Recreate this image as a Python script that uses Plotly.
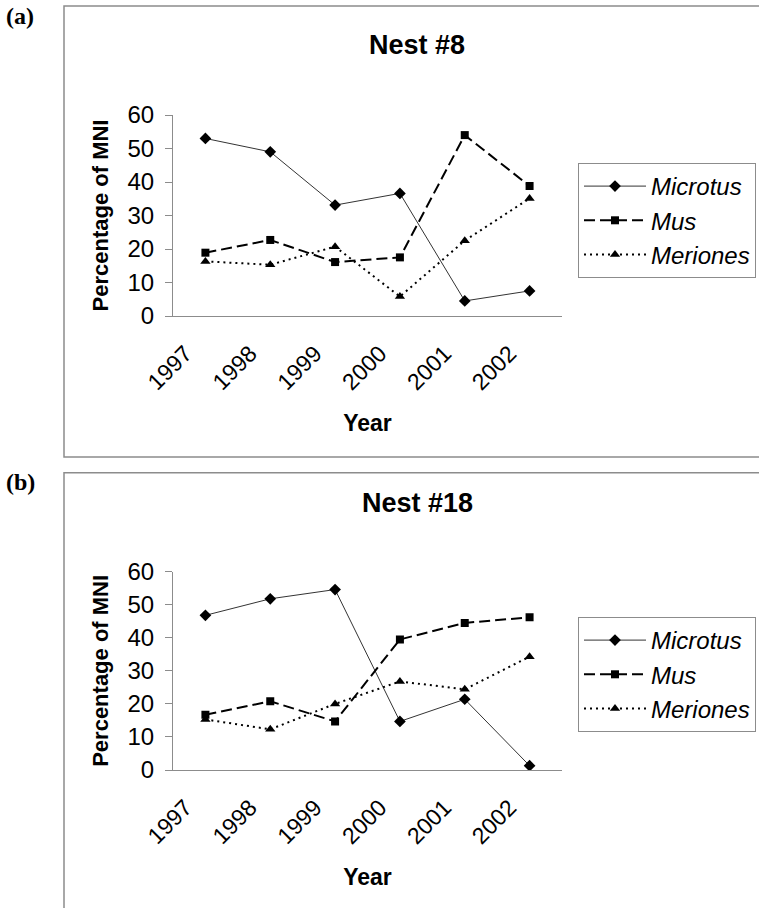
import plotly.graph_objects as go

years = ["1997", "1998", "1999", "2000", "2001", "2002"]

# Panel (a) Nest #8
a_microtus = [53.0, 49.0, 33.1, 36.6, 4.5, 7.5]
a_mus = [18.9, 22.7, 16.1, 17.5, 54.0, 38.8]
a_meriones = [16.3, 15.3, 20.7, 5.8, 22.5, 35.1]

# Panel (b) Nest #18
b_microtus = [46.8, 51.8, 54.6, 14.7, 21.4, 1.3]
b_mus = [16.7, 20.8, 14.7, 39.5, 44.5, 46.2]
b_meriones = [15.3, 12.3, 20.0, 26.8, 24.4, 34.3]

species = ["Microtus", "Mus", "Meriones"]
panel_titles = ["Nest #8", "Nest #18"]
panel_labels = ["(a)", "(b)"]

W, H = 759, 908

def px(x):
    return x / W

def py(y):
    return 1 - y / H

styles = {
    "Microtus": dict(line=dict(color="#333333", width=1, dash="solid"),
                     marker=dict(symbol="diamond", size=9, color="black")),
    "Mus": dict(line=dict(color="black", width=2, dash="11px,5px"),
                marker=dict(symbol="square", size=8, color="black")),
    "Meriones": dict(line=dict(color="black", width=2, dash="2px,4px"),
                     marker=dict(symbol="triangle-up", size=9, color="black")),
}

fig = go.Figure()

panels = [
    ("x", "y", "legend", [a_microtus, a_mus, a_meriones]),
    ("x2", "y2", "legend2", [b_microtus, b_mus, b_meriones]),
]
for xa, ya, leg, series in panels:
    for name, vals in zip(species, series):
        st = styles[name]
        fig.add_trace(go.Scatter(
            x=years, y=vals, name=name, mode="lines+markers",
            line=st["line"], marker=st["marker"],
            xaxis=xa, yaxis=ya, legend=leg,
        ))

font_family = "Liberation Sans, Arial, sans-serif"
axis_gray = "#8c8c8c"

common_x = dict(
    type="category", showgrid=False, zeroline=False, automargin=False,
    showline=True, linecolor=axis_gray, linewidth=1,
    ticks="", tickangle=-45, tickfont=dict(size=23, color="black"),
    ticklabelshift=-20, ticklabelstandoff=14,
    title=dict(text="<b>Year</b>", font=dict(size=23, color="black"), standoff=20),
    range=[-0.5, 5.5],
)
common_y = dict(
    range=[0, 60], dtick=10, showgrid=False, zeroline=False, automargin=False,
    showline=True, linecolor=axis_gray, linewidth=1,
    ticks="outside", ticklen=7, tickcolor=axis_gray,
    tickfont=dict(size=24, color="black"), ticklabelstandoff=6,
    title=dict(text="<b>Percentage of MNI</b>", font=dict(size=22, color="black"), standoff=12),
)

legend_common = dict(
    xanchor="left", yanchor="top",
    bordercolor=axis_gray, borderwidth=1, bgcolor="white",
    font=dict(size=24, color="black", style="italic"),
    itemwidth=62, tracegroupgap=0,
)

xdom = [px(173), px(562)]
fig.update_layout(
    width=W, height=H,
    margin=dict(l=0, r=0, t=0, b=0, pad=0, autoexpand=False),
    paper_bgcolor="white", plot_bgcolor="white",
    font=dict(family=font_family, color="black"),
    xaxis=dict(domain=xdom, anchor="y", **common_x),
    yaxis=dict(domain=[py(316), py(115)], anchor="x", **common_y),
    xaxis2=dict(domain=xdom, anchor="y2", **common_x),
    yaxis2=dict(domain=[py(770), py(571.7)], anchor="x2", **common_y),
    legend=dict(x=px(578), y=py(163), **legend_common),
    legend2=dict(x=px(578), y=py(617), **legend_common),
    showlegend=True,
)

# panel frames
fig.add_shape(type="rect", xref="paper", yref="paper",
              x0=px(64), x1=px(762), y0=py(457), y1=py(6),
              line=dict(color=axis_gray, width=1.5), layer="below")
fig.add_shape(type="rect", xref="paper", yref="paper",
              x0=px(64), x1=px(762), y0=py(912), y1=py(472.7),
              line=dict(color=axis_gray, width=1.5), layer="below")

# titles and panel labels
for title, ty in zip(panel_titles, [45, 503]):
    fig.add_annotation(text=f"<b>{title}</b>", x=px(417), y=py(ty),
                       xref="paper", yref="paper", showarrow=False,
                       xanchor="center", yanchor="middle",
                       font=dict(size=27, color="black", family=font_family))
for lab, ly in zip(panel_labels, [16, 482]):
    fig.add_annotation(text=f"<b>{lab}</b>", x=px(4), y=py(ly),
                       xref="paper", yref="paper", showarrow=False,
                       xanchor="left", yanchor="middle",
                       font=dict(size=24, color="black",
                                 family="Liberation Serif, Times New Roman, serif"))

fig.write_html("out.html", config={"displayModeBar": False},
               post_script="document.body.style.margin='0';document.body.style.overflow='hidden';")
